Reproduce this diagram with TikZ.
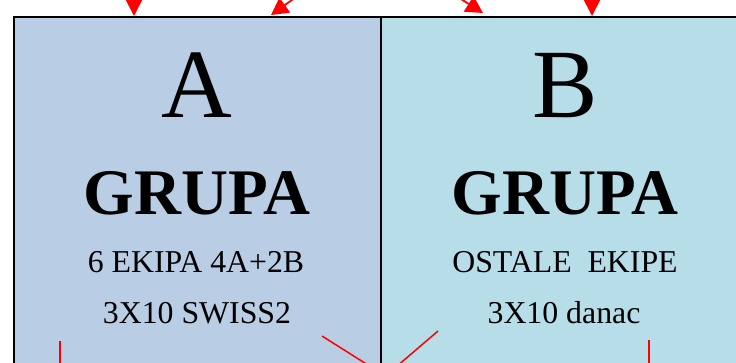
\documentclass[tikz,border=0pt]{standalone}
\usepackage{fontspec}
\setmainfont{Liberation Serif}
\usetikzlibrary{arrows.meta}
\definecolor{fillA}{RGB}{185,205,228}
\definecolor{fillB}{RGB}{183,221,232}
\begin{document}
\begin{tikzpicture}[x=1pt,y=-1pt,
  box/.style={draw=black,line width=1.5pt,anchor=north west,inner sep=0pt},
  redarr/.style={draw=red,line width=1.5pt,-{Triangle[width=16pt,length=16pt]}},
  diagarr/.style={draw=red,line width=1.8pt,-{Triangle[width=18pt,length=17pt]}},
  redline/.style={draw=red,line width=1.5pt},
  letter/.style={anchor=base,inner sep=0pt,font=\fontsize{98}{98}\selectfont},
  grupa/.style={anchor=base,inner sep=0pt,font=\fontsize{65}{65}\selectfont\bfseries},
  info/.style={anchor=base,inner sep=0pt,font=\fontsize{31.8}{32}\selectfont}]
\useasboundingbox (0,0) rectangle (736,362);
\clip (0,0) rectangle (736,362);
\fill[white] (0,0) rectangle (736,362);
\node[box,fill=fillA,minimum width=367pt,minimum height=400pt] (boxA) at (13,16) {};
\node[box,fill=fillB,minimum width=370pt,minimum height=400pt] (boxB) at (380,16) {};
\node[letter] (la) at (197,117) {A};
\node[grupa] (ga) at (197,214) {GRUPA};
\node[info] (ia1) at (196,272) {6 EKIPA 4A+2B};
\node[info] (ia2) at (197,323) {3X10 SWISS2};
\node[letter] (lb) at (565,117) {B};
\node[grupa] (gb) at (565,214) {GRUPA};
\node[info] (ib1) at (565,272) {OSTALE\ \ EKIPE};
\node[info] (ib2) at (564,323) {3X10 danac};
% incoming arrows
\coordinate (s1) at (134,-20); \coordinate (e1) at (134,16);
\coordinate (s2) at (310,-13); \coordinate (e2) at (271,15);
\coordinate (s3) at (442,-13); \coordinate (e3) at (483,13);
\coordinate (s4) at (592,-20); \coordinate (e4) at (592,16);
\draw[redarr] (s1) -- (e1);
\draw[diagarr] (s2) -- (e2);
\draw[diagarr] (s3) -- (e3);
\draw[redarr] (s4) -- (e4);
% outgoing lines
\coordinate (o1) at (60,341); \coordinate (p1) at (60,380);
\coordinate (o2) at (322,336); \coordinate (p2) at (387,377);
\coordinate (o3) at (438,331); \coordinate (p3) at (396,367);
\coordinate (o4) at (649,340); \coordinate (p4) at (649,380);
\draw[redline] (o1) -- (p1);
\draw[redline] (o2) -- (p2);
\draw[redline] (o3) -- (p3);
\draw[redline] (o4) -- (p4);
\end{tikzpicture}
\end{document}
